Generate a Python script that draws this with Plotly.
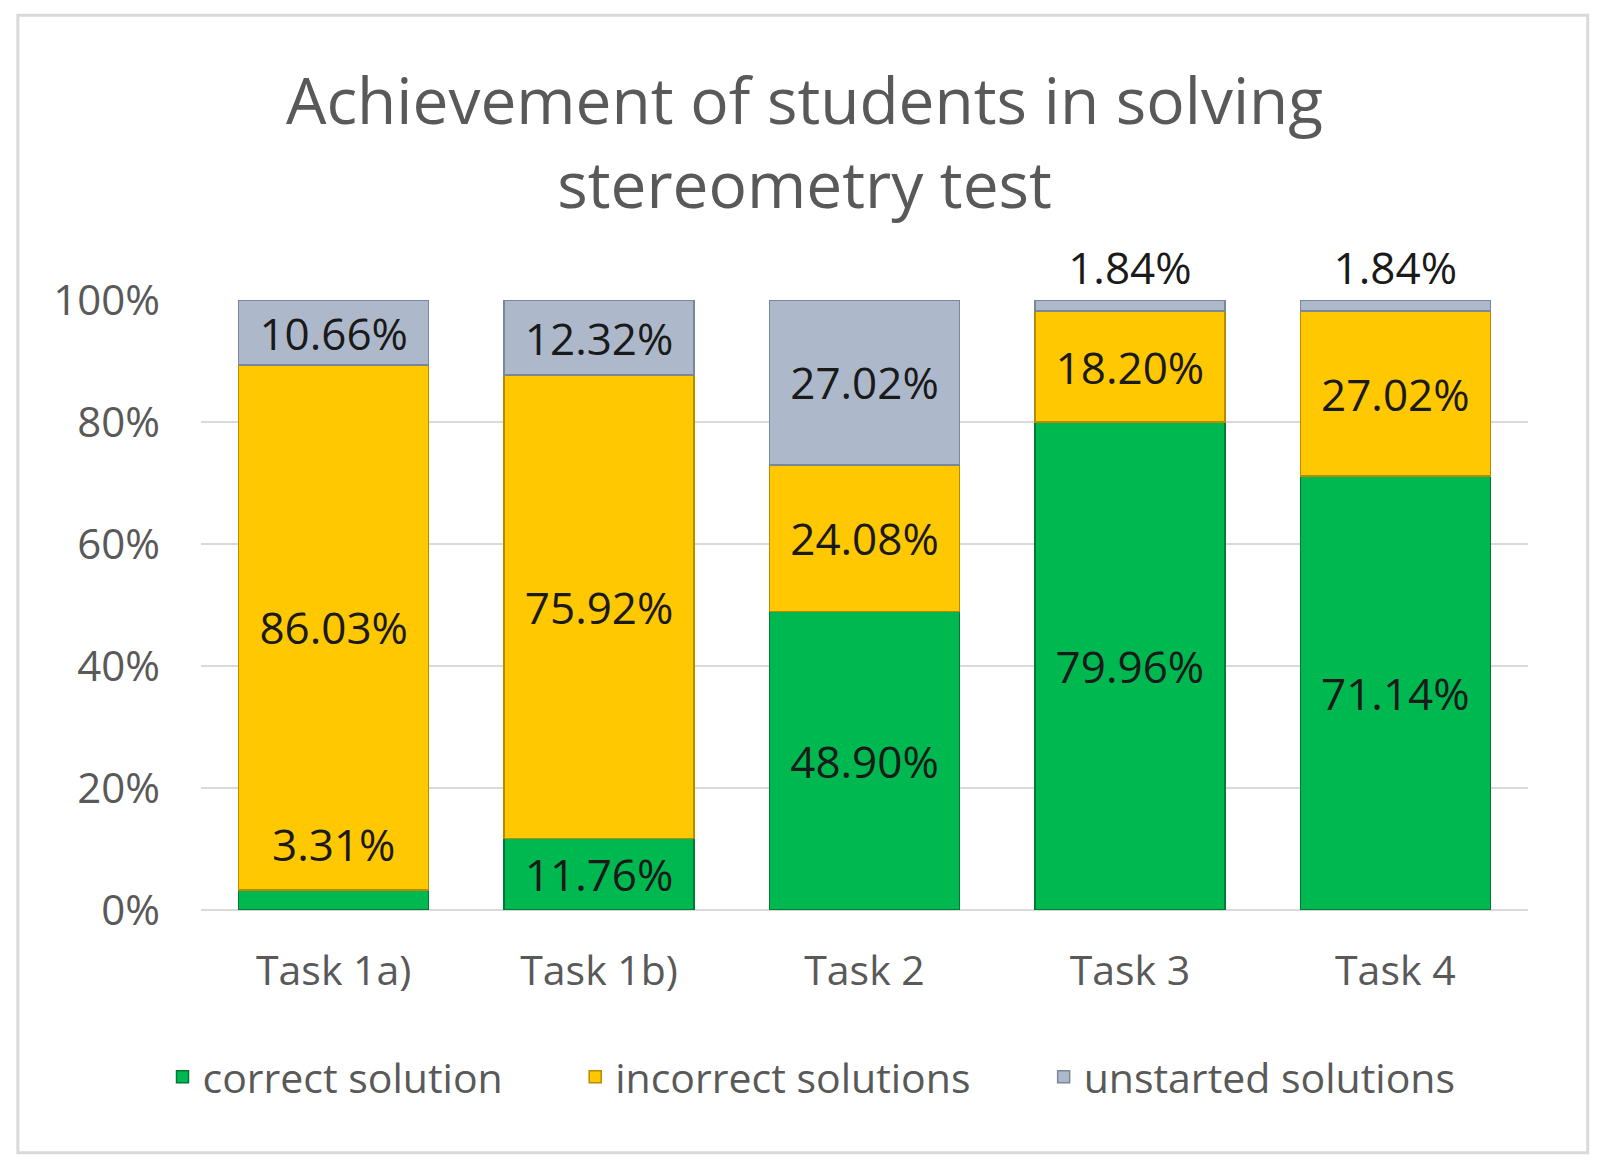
import plotly.graph_objects as go

# stereometry test results (% of students)
tasks = ['Task 1a)', 'Task 1b)', 'Task 2', 'Task 3', 'Task 4']
correct = [3.31, 11.76, 48.90, 79.96, 71.14]
incorrect = [86.03, 75.92, 24.08, 18.20, 27.02]
unstarted = [10.66, 12.32, 27.02, 1.84, 1.84]

y_ticks = [0, 20, 40, 60, 80, 100]
y_tick_labels = ['0%', '20%', '40%', '60%', '80%', '100%']

series_names = ['correct solution', 'incorrect solutions', 'unstarted solutions']
colors = ['#00B850', '#FFC800', '#ADB9CA']
edge = ['#007A35', '#B88A00', '#7A879A']

font_name = 'Open Sans'
label_font = dict(family=font_name, size=44, color='#1A1A1A')
gray_font = dict(family=font_name, size=41, color='#595959')

fig = go.Figure()

# green: the tiny first segment gets its label from an annotation instead
fig.add_trace(go.Bar(x=tasks, y=correct, name=series_names[0], legend='legend',
                     marker=dict(color=colors[0], line=dict(color=edge[0], width=1.5)),
                     texttemplate='%{y:.2f}%',
                     textposition=['none', 'inside', 'inside', 'inside', 'inside'],
                     insidetextanchor='middle', insidetextfont=label_font,
                     constraintext='none', cliponaxis=False))

fig.add_trace(go.Bar(x=tasks, y=incorrect, name=series_names[1], legend='legend2',
                     marker=dict(color=colors[1], line=dict(color=edge[1], width=1.5)),
                     texttemplate='%{y:.2f}%', textposition='inside',
                     insidetextanchor='middle', insidetextfont=label_font,
                     constraintext='none', cliponaxis=False))

fig.add_trace(go.Bar(x=tasks, y=unstarted, name=series_names[2], legend='legend3',
                     marker=dict(color=colors[2], line=dict(color=edge[2], width=1.5)),
                     texttemplate='%{y:.2f}%',
                     textposition=['inside', 'inside', 'inside', 'outside', 'outside'],
                     insidetextanchor='middle', insidetextfont=label_font,
                     outsidetextfont=label_font,
                     constraintext='none', cliponaxis=False))

fig.add_annotation(x=tasks[0], y=correct[0], yanchor='bottom', yshift=14,
                   text=f'{correct[0]:.2f}%', showarrow=False, font=label_font)

# light frame round the whole chart
fig.add_shape(type='rect', xref='paper', yref='paper',
              x0=-0.138, x1=1.045, y0=-0.398, y1=1.467,
              line=dict(color='#D9D9D9', width=3), layer='below')

leg = dict(orientation='h', xanchor='left', y=-0.274, yanchor='middle', font=gray_font)

# page body has an 8px margin, so the figure is shrunk by 8px
fig.update_layout(
    width=1593, height=1163,
    margin=dict(l=193, r=73, t=292, b=261),
    barmode='stack', bargap=0.284,
    paper_bgcolor='white', plot_bgcolor='white',
    font=dict(family=font_name, color='#595959'),
    title=dict(text='Achievement of students in solving<br>stereometry test',
               x=0.5, xanchor='center', y=0.900, yanchor='middle',
               font=dict(family=font_name, size=64, color='#595959')),
    legend=dict(leg, x=-0.029),
    legend2=dict(leg, x=0.282),
    legend3=dict(leg, x=0.635),
    showlegend=True,
)

fig.update_yaxes(range=[0, 100], tickvals=y_ticks, ticktext=y_tick_labels,
                 showgrid=True, gridcolor='#D9D9D9', gridwidth=2,
                 zeroline=True, zerolinecolor='#D9D9D9', zerolinewidth=2,
                 tickfont=dict(family=font_name, size=42, color='#595959'),
                 ticklabelstandoff=40, fixedrange=True)
fig.update_xaxes(showgrid=False, showline=False,
                 tickfont=dict(family=font_name, size=41, color='#595959'),
                 ticklabelstandoff=33, fixedrange=True)

fig.write_html('out.html')
